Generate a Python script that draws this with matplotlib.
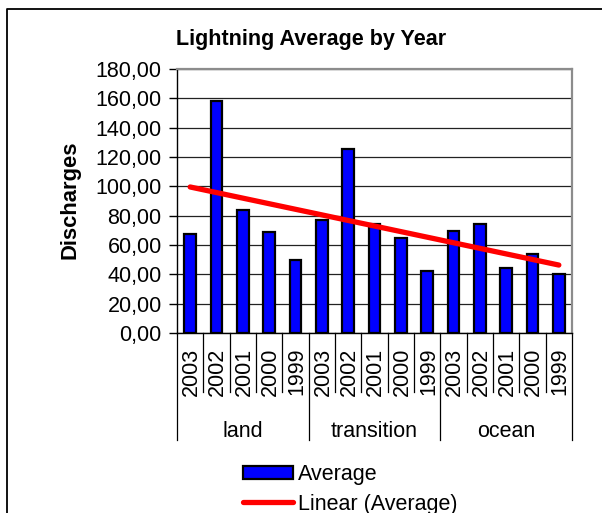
import numpy as np
import matplotlib
matplotlib.use("Agg")
import matplotlib.pyplot as plt
from matplotlib.lines import Line2D
from matplotlib.patches import Patch
from matplotlib.ticker import FuncFormatter, MultipleLocator

plt.rcParams['font.family'] = ['Liberation Sans', 'DejaVu Sans']

groups = ["land", "transition", "ocean"]
years = ["2003", "2002", "2001", "2000", "1999"]
land = [67.7, 158.1, 83.8, 68.6, 49.8]
transition = [76.8, 125.6, 74.5, 65.0, 42.3]
ocean = [69.7, 74.1, 44.1, 53.6, 40.4]

values = np.array(land + transition + ocean)
n = len(values)
x = np.arange(1, n + 1)

W, H = 602, 513
fig = plt.figure(figsize=(W / 100, H / 100), dpi=100)
L, R, T, B = 177, 572, 69, 333
ax = fig.add_axes([L / W, 1 - B / H, (R - L) / W, (B - T) / H])

ax.set_xlim(0.5, n + 0.5)
ax.set_ylim(0, 180)
ax.yaxis.set_major_locator(MultipleLocator(20))
ax.yaxis.set_major_formatter(FuncFormatter(lambda v, p: f"{v:.2f}".replace(".", ",")))
ax.tick_params(axis='y', direction='out', length=6, width=1, pad=5, labelsize=15.5)
ax.set_xticks([])
ax.yaxis.grid(True, color='#222222', lw=0.9)
ax.set_axisbelow(True)

for s in ['top', 'right']:
    ax.spines[s].set_color('#8c8c8c')
    ax.spines[s].set_linewidth(1.6)
for s in ['left', 'bottom']:
    ax.spines[s].set_color('black')
    ax.spines[s].set_linewidth(1.0)

ax.bar(x, values, width=0.44, color='#0000ff', edgecolor='black', linewidth=1.6, zorder=3)

coef = np.polyfit(x, values, 1)
trend = np.polyval(coef, x)
ax.plot([x[0], x[-1]], [trend[0], trend[-1]], color='#ff0000', lw=3.8,
        solid_capstyle='round', zorder=4)

trans = ax.get_xaxis_transform()
# category separators: short ones between years, long ones between groups
for i in range(n + 1):
    edge = i + 0.5
    low = -0.405 if i % len(years) == 0 else -0.223
    ax.add_line(Line2D([edge, edge], [0, low], transform=trans, color='black',
                       lw=0.9, clip_on=False))
for i in range(n):
    ax.text(x[i] + 0.05, -0.146, years[i % len(years)], transform=trans, rotation=90,
            ha='center', va='center', fontsize=15.5)
for g, name in enumerate(groups):
    center = g * len(years) + (len(years) + 1) / 2
    ax.text(center, -0.372, name, transform=trans, ha='center', va='center', fontsize=15.5)

fig.text(311 / W, 1 - 40 / H, "Lightning Average by Year", ha='center', va='center',
         fontsize=15.5, fontweight='bold')
fig.text(70 / W, 1 - 200 / H, "Discharges", ha='center', va='center', rotation=90,
         fontsize=15.8, fontweight='bold')

# outer chart frame
fig.add_artist(Line2D([7 / W, 7 / W, 1.0], [0.0, 1 - 9 / H, 1 - 9 / H],
                      transform=fig.transFigure, color='black', lw=1.3))

handles = [Patch(facecolor='#0000ff', edgecolor='black', linewidth=1.6, label='Average'),
           Line2D([], [], color='#ff0000', lw=3.8, solid_capstyle='round',
                  label='Linear (Average)')]
fig.legend(handles=handles, loc='upper left', bbox_to_anchor=(243 / W, 1 - 464 / H),
           frameon=False, fontsize=15.5, handlelength=2.3, handleheight=0.6,
           handletextpad=0.25, labelspacing=0.4, borderpad=0, borderaxespad=0)

fig.savefig("out.png", dpi=100)
